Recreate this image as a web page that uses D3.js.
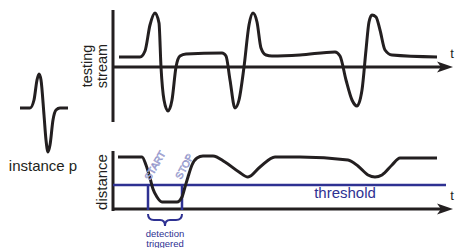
<!DOCTYPE html>
<html>
<head>
<meta charset="utf-8">
<script src="https://cdn.jsdelivr.net/npm/d3@7"></script>
<style>
  body { margin: 0; background: #fff; }
  text { font-family: Arial, "Liberation Sans", sans-serif; }
</style>
</head>
<body>
<svg id="chart" width="455" height="248"></svg>
<script>
// ---- data ----
// testing stream: time t and signal value
var streamT = [6, 27, 32, 37, 42, 46, 48, 51, 55, 59, 63, 67, 73, 109, 113, 117, 122, 126, 131, 136, 140, 144, 148, 153, 159, 187, 222, 227, 233, 239, 244, 249, 253, 256, 259, 263, 267, 272, 279, 324];
var streamV = [10, 10, 16, 42, 54, 44, 0, -33, -44, -33, 0, 11, 13, 14, 11, -13, -41, -33, 0, 42, 54, 45, 19, 12, 11, 12, 15, 11, -13, -33, -39, -23, 17, 45, 52, 50, 37, 17, 12, 10];

// instance p (the query pattern)
var instT = [0, 10, 14, 17, 19, 21, 24, 26, 28, 30, 33, 36, 40, 48];
var instV = [0, 0, 8, 28, 34, 28, -7, -32, -44, -37, -12, -2, 0, 0];

// distance profile
var distT = [5, 29, 33, 37, 40, 44, 49, 64, 69, 72, 75, 79, 84, 90, 100, 112, 126, 135, 147, 162, 187, 235, 245, 255, 262, 269, 279, 287, 324];
var distV = [52, 52, 44, 31, 20, 12, 7, 7, 12, 22, 32, 44, 51, 53, 53, 47, 37, 32, 42, 52, 52, 49, 43, 34, 32, 34, 44, 51, 51];

var threshold = 24;
var detectStart = 35, detectStop = 69;

// ---- drawing ----
var svg = d3.select("#chart");
var black = "#231f20", blue = "#2e3192", lightBlue = "#8c8fc8";

var x = d3.scaleLinear().domain([0, 342]).range([113, 455]);
var yTop = d3.scaleLinear().domain([-54, 54]).range([121, 13]);
var yDist = d3.scaleLinear().domain([0, 60]).range([209, 149]);
var xInst = d3.scaleLinear().domain([0, 48]).range([20, 68]);
var yInst = d3.scaleLinear().domain([-54, 54]).range([162, 54]);

function arrowHead(tipX, yy) {
    svg.append("path")
        .attr("d", "M" + tipX + "," + yy + "L" + (tipX - 16) + "," + (yy - 5.5) + "L" + (tipX - 12) + "," + yy + "L" + (tipX - 16) + "," + (yy + 5.5) + "Z")
        .attr("fill", black);
}

//top panel axes
svg.append("line").attr("x1", x(0)).attr("x2", x(0)).attr("y1", 10).attr("y2", 122)
    .attr("stroke", black).attr("stroke-width", 3);
svg.append("line").attr("x1", x(0)).attr("x2", x(330)).attr("y1", yTop(0)).attr("y2", yTop(0))
    .attr("stroke", black).attr("stroke-width", 3);
arrowHead(x(340), yTop(0));

//bottom panel axes
svg.append("line").attr("x1", x(0)).attr("x2", x(0)).attr("y1", 151).attr("y2", 211)
    .attr("stroke", black).attr("stroke-width", 3);
svg.append("line").attr("x1", x(0)).attr("x2", x(330)).attr("y1", yDist(0)).attr("y2", yDist(0))
    .attr("stroke", black).attr("stroke-width", 3);
arrowHead(x(340), yDist(0));

//stream curve
var streamLine = d3.line()
    .x(function (d, i) { return x(streamT[i]); })
    .y(function (d) { return yTop(d); })
    .curve(d3.curveMonotoneX);
svg.append("path").attr("d", streamLine(streamV))
    .attr("fill", "none").attr("stroke", black).attr("stroke-width", 3).attr("stroke-linejoin", "round");

//instance p
var instLine = d3.line()
    .x(function (d, i) { return xInst(instT[i]); })
    .y(function (d) { return yInst(d); })
    .curve(d3.curveMonotoneX);
svg.append("path").attr("d", instLine(instV))
    .attr("fill", "none").attr("stroke", black).attr("stroke-width", 3);

//threshold and detection window
svg.append("line").attr("x1", x(0)).attr("x2", x(333)).attr("y1", yDist(threshold)).attr("y2", yDist(threshold))
    .attr("stroke", blue).attr("stroke-width", 2.5);
[detectStart, detectStop].forEach(function (t) {
    svg.append("line").attr("x1", x(t)).attr("x2", x(t)).attr("y1", yDist(threshold)).attr("y2", yDist(0) + 1)
        .attr("stroke", blue).attr("stroke-width", 2.5);
});

//distance curve
var distLine = d3.line()
    .x(function (d, i) { return x(distT[i]); })
    .y(function (d) { return yDist(d); })
    .curve(d3.curveMonotoneX);
svg.append("path").attr("d", distLine(distV))
    .attr("fill", "none").attr("stroke", black).attr("stroke-width", 3).attr("stroke-linejoin", "round");

//brace under detection window
var b0 = x(detectStart), b1 = x(detectStop), bm = (b0 + b1) / 2;
svg.append("path")
    .attr("d", "M" + b0 + ",214Q" + b0 + ",220 " + (b0 + 6) + ",220L" + (bm - 5) + ",220Q" + bm + ",220 " + bm + ",226"
        + "Q" + bm + ",220 " + (bm + 5) + ",220L" + (b1 - 6) + ",220Q" + b1 + ",220 " + b1 + ",214")
    .attr("fill", "none").attr("stroke", blue).attr("stroke-width", 2);

// ---- texts ----
svg.append("text").attr("transform", "translate(92,66) rotate(-90)").attr("text-anchor", "middle")
    .attr("font-size", 14.5).attr("fill", black).text("testing");
svg.append("text").attr("transform", "translate(107,66) rotate(-90)").attr("text-anchor", "middle")
    .attr("font-size", 14.5).attr("fill", black).text("stream");
svg.append("text").attr("transform", "translate(107,182) rotate(-90)").attr("text-anchor", "middle")
    .attr("font-size", 15).attr("fill", black).text("distance");
svg.append("text").attr("x", 43).attr("y", 171).attr("text-anchor", "middle")
    .attr("font-size", 15).attr("fill", black).text("instance p");
svg.append("text").attr("x", 452).attr("y", 58).attr("text-anchor", "middle")
    .attr("font-size", 13).attr("fill", black).text("t");
svg.append("text").attr("x", 452).attr("y", 200).attr("text-anchor", "middle")
    .attr("font-size", 13).attr("fill", black).text("t");
svg.append("text").attr("x", 345).attr("y", 198).attr("text-anchor", "middle")
    .attr("font-size", 15).attr("fill", blue).text("threshold");
svg.append("text").attr("x", bm).attr("y", 237).attr("text-anchor", "middle")
    .attr("font-size", 9.5).attr("fill", blue).text("detection");
svg.append("text").attr("x", bm).attr("y", 247).attr("text-anchor", "middle")
    .attr("font-size", 9.5).attr("fill", blue).text("triggered");
svg.append("text").attr("transform", "translate(" + (b0 + 2) + ",181) rotate(-60)")
    .attr("font-size", 10).attr("fill", "#fff").attr("stroke", lightBlue).attr("stroke-width", 0.6).text("START");
svg.append("text").attr("transform", "translate(" + (b1 - 1) + ",180) rotate(-62)")
    .attr("font-size", 10).attr("fill", "#fff").attr("stroke", lightBlue).attr("stroke-width", 0.6).text("STOP");
</script>
</body>
</html>
